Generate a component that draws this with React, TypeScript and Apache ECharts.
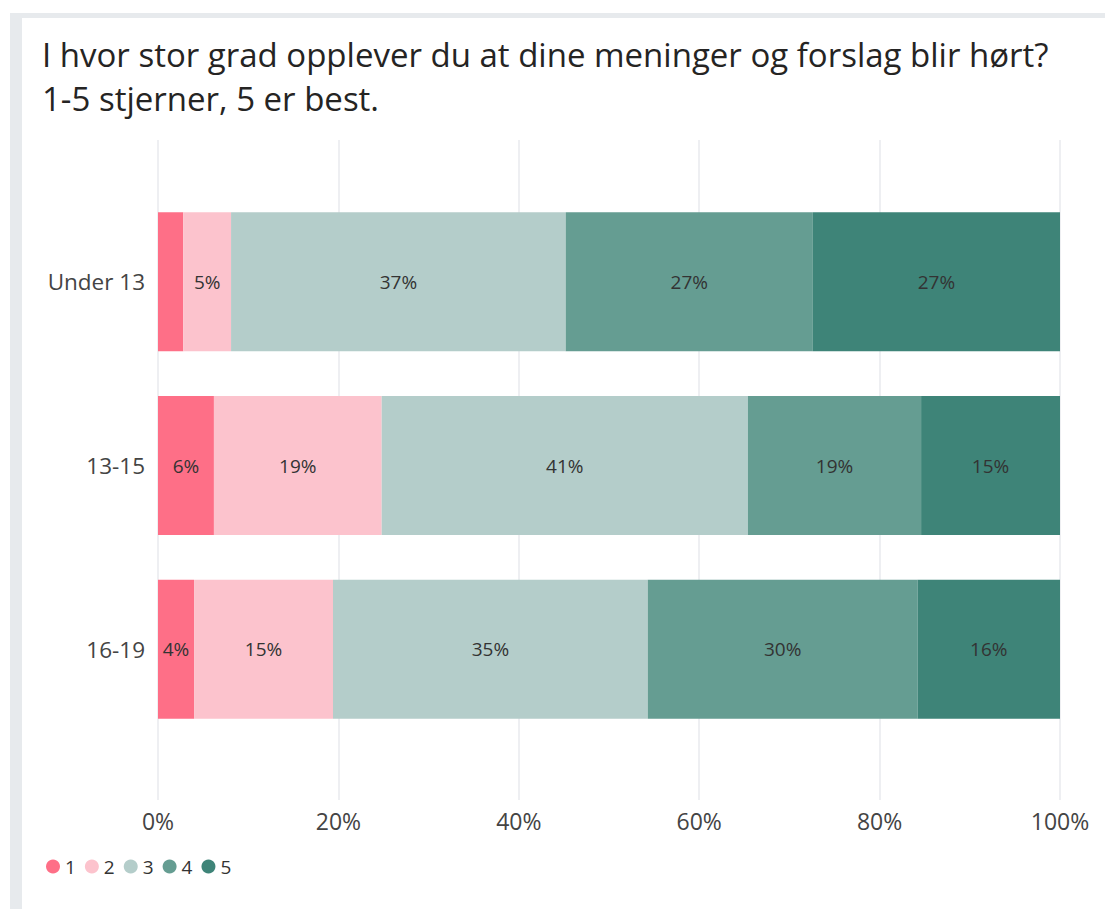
import React, { useEffect, useRef } from "react";
import * as echarts from "echarts";

const categories = ["Under 13", "13-15", "16-19"];
const seriesNames = ["1", "2", "3", "4", "5"];
const s1 = [2.8, 6.2, 4.0];
const s2 = [5.3, 18.6, 15.4];
const s3 = [37.1, 40.6, 34.9];
const s4 = [27.4, 19.2, 29.9];
const s5 = [27.4, 15.4, 15.8];
const seriesValues = [s1, s2, s3, s4, s5];
const colors = ["#fe6f87", "#fcc3cd", "#b4cdca", "#659d92", "#3e8478"];
const xTicks = [0, 20, 40, 60, 80, 100];
const titleLines = [
  "I hvor stor grad opplever du at dine meninger og forslag blir hørt?",
  "1-5 stjerner, 5 er best.",
];

const FONT = "'Open Sans', 'Noto Sans', sans-serif";

export default function App() {
  const ref = useRef<HTMLDivElement>(null);
  useEffect(() => {
    if (!ref.current) return;
    const chart = echarts.init(ref.current, undefined, { renderer: "svg" });
    chart.setOption({
      animation: false,
      backgroundColor: "#ffffff",
      textStyle: { fontFamily: FONT },
      color: colors,
      title: {
        text: titleLines.join("\n"),
        left: 37,
        top: 27,
        textStyle: {
          fontFamily: FONT,
          fontSize: 33,
          fontWeight: "normal",
          color: "#252423",
          lineHeight: 44,
        },
      },
      graphic: [
        { type: "rect", shape: { x: 10, y: 13, width: 12, height: 896 }, style: { fill: "#e7eaed" }, silent: true },
        { type: "rect", shape: { x: 10, y: 13, width: 1095, height: 5 }, style: { fill: "#e7eaed" }, silent: true },
      ],
      legend: {
        left: 41,
        top: 852,
        icon: "circle",
        itemWidth: 14,
        itemHeight: 14,
        itemGap: 9,
        data: seriesNames,
        textStyle: { fontFamily: FONT, fontSize: 19, color: "#333" },
      },
      grid: [
        { left: 158, right: 45, top: 140, height: 660 },
        { left: 158, right: 45, top: 190, height: 551 },
      ],
      xAxis: [
        {
          gridIndex: 0,
          type: "value",
          min: 0,
          max: 100,
          interval: 20,
          axisLine: { show: false },
          axisTick: { show: false },
          splitLine: { show: true, lineStyle: { color: "#e8eaee", width: 1.5 } },
          axisLabel: {
            formatter: (v: number) => (xTicks.includes(v) ? v + "%" : ""),
            fontFamily: FONT,
            fontSize: 23,
            color: "#444",
            margin: 9,
          },
        },
        {
          gridIndex: 1,
          type: "value",
          min: 0,
          max: 100,
          show: false,
        },
      ],
      yAxis: [
        { gridIndex: 0, type: "category", data: categories, show: false },
        {
          gridIndex: 1,
          type: "category",
          data: categories,
          inverse: true,
          axisLine: { show: false },
          axisTick: { show: false },
          splitLine: { show: false },
          axisLabel: { fontFamily: FONT, fontSize: 22.5, color: "#444", margin: 13 },
        },
      ],
      series: seriesNames.map((name, i) => ({
        name,
        type: "bar",
        stack: "total",
        xAxisIndex: 1,
        yAxisIndex: 1,
        barWidth: 139,
        data: seriesValues[i],
        itemStyle: { color: colors[i] },
        label: {
          show: true,
          position: "inside",
          fontFamily: FONT,
          fontSize: 19,
          color: "#333",
          formatter: (p: any) => (p.value >= 3 ? Math.round(p.value) + "%" : ""),
        },
      })),
    });
    return () => chart.dispose();
  }, []);
  return (
    <div
      ref={ref}
      style={{ position: "fixed", left: 0, top: 0, width: 1105, height: 909 }}
    />
  );
}
